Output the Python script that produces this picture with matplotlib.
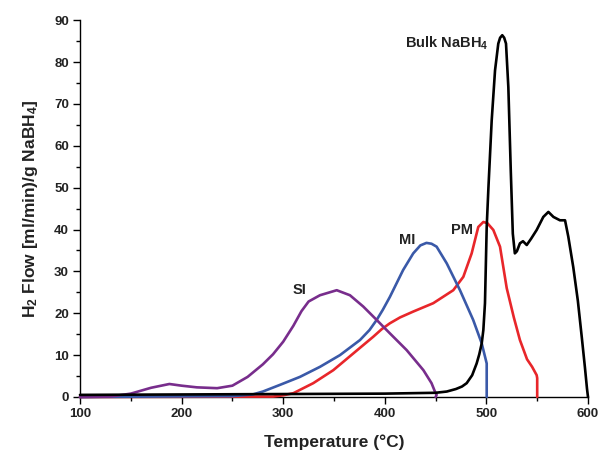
import matplotlib
matplotlib.use("Agg")
import matplotlib.pyplot as plt
from matplotlib.ticker import MultipleLocator

plt.rcParams['font.family'] = ['Liberation Sans', 'DejaVu Sans']
plt.rcParams['mathtext.fontset'] = 'custom'
plt.rcParams['mathtext.rm'] = 'Liberation Sans:bold'
plt.rcParams['mathtext.it'] = 'Liberation Sans:bold'
plt.rcParams['mathtext.bf'] = 'Liberation Sans:bold'
plt.rcParams['mathtext.default'] = 'rm'

# Bulk NaBH4 (black)
bulk_t = [100, 200, 300, 400, 450, 461, 470, 476, 480.6, 486, 490.4, 493, 495.4, 497, 498.6, 500.3,
          502, 505.2, 508.5, 511.7, 513.5, 515.6, 517.5, 519.3, 521.6, 524, 526, 528, 530, 533, 536,
          539.7, 544, 549.5, 556, 561, 566, 572.4, 577.4, 580.6, 585.5, 590, 594, 597, 599, 600]
bulk_v = [0.5, 0.6, 0.7, 0.8, 1.0, 1.3, 1.9, 2.5, 3.3, 5.2, 8.0, 10.2, 12.8, 16, 22.4, 40.6,
          50, 66, 78, 84.4, 85.8, 86.4, 85.8, 84.4, 74, 54, 39, 34.3, 34.8, 36.7, 37.2,
          36.3, 37.8, 39.9, 43, 44.2, 43, 42.2, 42.2, 38.3, 31, 23, 14, 7, 2, 0]

# MI (blue)
mi_t = [100, 250, 270, 280, 296.9, 316.5, 336.2, 355.9, 375.6, 385, 392, 398, 405, 418, 428, 435,
        441, 446, 451, 461, 474, 487, 495.4, 500.3, 500.3]
mi_v = [0, 0.2, 0.6, 1.3, 2.9, 4.8, 7.2, 10.0, 13.6, 16.0, 18.4, 20.8, 23.9, 30.3, 34.3, 36.2,
        36.8, 36.6, 35.9, 31.9, 25.5, 18.4, 12.8, 8.0, 0]

# PM (red)
pm_t = [100, 290, 300, 310, 329.6, 349.3, 369, 388.7, 397, 405, 415, 428, 447.7, 467.4, 477.3,
        485.5, 492, 497, 501, 506.8, 513.4, 520, 527, 533, 540, 545, 549.5, 550, 550]
pm_v = [0, 0.1, 0.4, 0.9, 3.3, 6.4, 10.4, 14.4, 16.2, 17.6, 19.0, 20.4, 22.4, 25.5, 28.7,
        34.3, 40.6, 41.8, 41.5, 39.9, 35.9, 26, 19, 13.6, 9, 7.2, 5.2, 4.5, 0]

# SI (purple)
si_t = [100, 130, 150, 170, 188, 200, 215, 235, 250, 265, 280, 290, 300, 310, 318, 325, 336.2,
        352.7, 365.7, 378.8, 392, 405, 421.5, 438, 446, 449, 451, 450]
si_v = [0, 0.1, 0.8, 2.2, 3.1, 2.7, 2.3, 2.1, 2.7, 4.8, 7.8, 10.2, 13.2, 17, 20.5, 22.8, 24.3,
        25.5, 24.3, 21.6, 18.4, 15.2, 11.2, 6.4, 3.3, 1.5, 0.5, 0]

labels = ["Bulk NaBH$_4$", "PM", "MI", "SI"]
label_pos = [(461, 84.5), (476, 40), (422, 37.5), (316, 25.5)]

fig = plt.figure(figsize=(6, 4.54), dpi=100)
ax = fig.add_axes([0.1333, 0.1256, 0.8467, 0.830])

lw = 1.9
kw = dict(lw=lw, clip_on=False, solid_joinstyle='round', solid_capstyle='round')
ax.plot(pm_t, pm_v, color='#e8262a', zorder=3, **kw)
ax.plot(mi_t, mi_v, color='#3a59a8', zorder=3, **kw)
ax.plot(si_t, si_v, color='#782d8c', zorder=3, **kw)
ax.plot(bulk_t, bulk_v, color='black', zorder=4, **kw)

for lab, (x, y) in zip(labels, label_pos):
    ax.text(x, y, lab, ha='center', va='center', fontsize=10.5, fontweight='bold', color='#222222')

ax.set_xlim(100, 600)
ax.set_ylim(0, 90)
ax.xaxis.set_major_locator(MultipleLocator(100))
ax.xaxis.set_minor_locator(MultipleLocator(50))
ax.yaxis.set_major_locator(MultipleLocator(10))
ax.yaxis.set_minor_locator(MultipleLocator(5))
for s in ['top', 'right']:
    ax.spines[s].set_visible(False)
for s in ['left', 'bottom']:
    ax.spines[s].set_linewidth(1.0)
ax.tick_params(which='major', direction='out', length=5, width=1, labelsize=9.5, pad=3)
ax.tick_params(which='minor', direction='out', length=3, width=1)
for t in ax.get_xticklabels() + ax.get_yticklabels():
    t.set_fontweight('bold')
    t.set_color('#222222')

ax.set_xlabel('Temperature (°C)', fontsize=12.5, fontweight='bold', color='#222222', labelpad=10)
ax.set_ylabel('H$_2$ Flow [ml/min)/g NaBH$_4$]', fontsize=12.5, fontweight='bold', color='#222222', labelpad=10)

fig.savefig('out.png', dpi=100)
